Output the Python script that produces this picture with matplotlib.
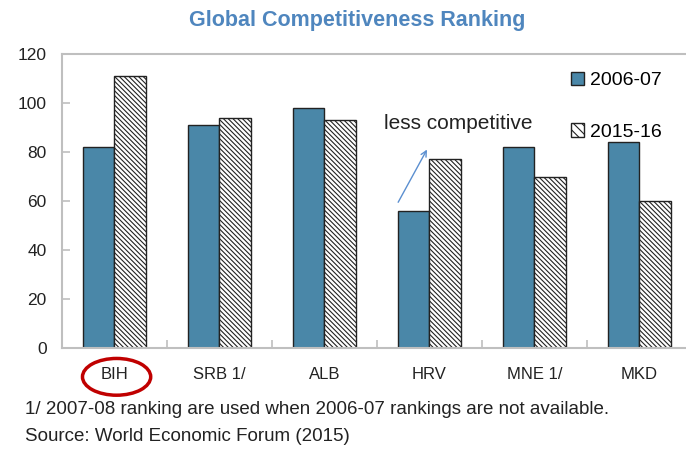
import matplotlib.pyplot as plt
from matplotlib.patches import Ellipse, Patch
import matplotlib.transforms as mtransforms
import numpy as np

countries = ['BIH', 'SRB 1/', 'ALB', 'HRV', 'MNE 1/', 'MKD']
rank_0607 = [82, 91, 98, 56, 82, 84]
rank_1516 = [111, 94, 93, 77, 70, 60]

plt.rcParams['font.family'] = ['Liberation Sans', 'DejaVu Sans']
plt.rcParams['hatch.linewidth'] = 0.8

blue = '#4A87A8'
grey = '#BFBFBF'
hatch = '\\' * 7

fig = plt.figure(figsize=(6.86, 4.49), dpi=100)
ax = fig.add_axes([0.0904, 0.2249, 0.918, 0.6548])

x = np.arange(len(countries))
w = 0.3
ax.bar(x - w / 2, rank_0607, w, color=blue, edgecolor='#222222', linewidth=1.0)
ax.bar(x + w / 2, rank_1516, w, color='white', edgecolor='#222222',
       linewidth=1.0, hatch=hatch)

ax.set_xlim(-0.5, len(countries) - 0.5)
ax.set_ylim(0, 120)
ax.set_yticks(range(0, 121, 20))
ax.set_xticks(x)
ax.set_xticklabels(countries, fontsize=12, color='#222222')
ax.set_xticks(np.arange(0.5, len(countries) - 0.5), minor=True)
ax.tick_params(axis='x', which='major', length=0, pad=14)
ax.tick_params(axis='x', which='minor', direction='in', length=6, color=grey, width=1.2)
ax.tick_params(axis='y', direction='in', length=6, color=grey, width=1.2,
               labelsize=12.5, labelcolor='#222222', pad=11)
for s in ax.spines.values():
    s.set_color(grey)
    s.set_linewidth(1.5)

fig.text(0.52, 0.955, 'Global Competitiveness Ranking', ha='center', va='center',
         fontsize=15.5, fontweight='bold', color='#4F86BE')

# arrow + note
ax.annotate('', xy=(2.99, 82), xytext=(2.69, 58.5),
            arrowprops=dict(arrowstyle='->', color='#5B8FD0', lw=1.0))
ax.text(2.57, 91.5, 'less competitive', fontsize=15, color='#222222', va='center')

handles = [Patch(facecolor=blue, edgecolor='#222222'),
           Patch(facecolor='white', edgecolor='#222222', hatch='\\' * 4)]
ax.legend(handles, ['2006-07', '2015-16'], loc='upper left',
          bbox_to_anchor=(0.808, 0.94), frameon=False, fontsize=14,
          handlelength=0.7, handleheight=0.7, handletextpad=0.3,
          labelspacing=1.75, borderpad=0, borderaxespad=0)

# red circle around BIH
tr = mtransforms.blended_transform_factory(ax.transData, ax.transAxes)
ax.add_patch(Ellipse((0.02, -0.098), 0.65, 0.125, transform=tr, fill=False,
                     edgecolor='#C00000', linewidth=2.5, clip_on=False))

fig.text(0.036, 0.087, '1/ 2007-08 ranking are used when 2006-07 rankings are not available.',
         fontsize=13.5, color='#222222', va='center')
fig.text(0.036, 0.027, 'Source: World Economic Forum (2015)',
         fontsize=13.5, color='#222222', va='center')

fig.savefig('out.png', dpi=100)
